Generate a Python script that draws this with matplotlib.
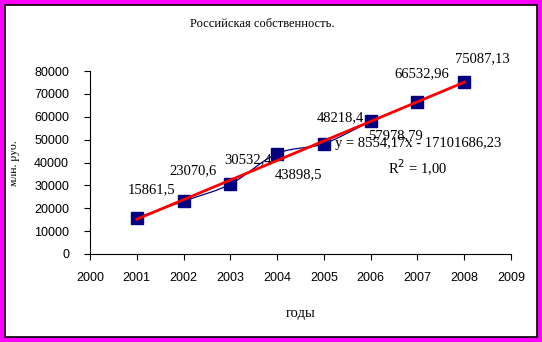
import numpy as np
import matplotlib
matplotlib.use("Agg")
import matplotlib.pyplot as plt
from matplotlib.patches import Rectangle
from matplotlib.transforms import Bbox

# data
years = [2001, 2002, 2003, 2004, 2005, 2006, 2007, 2008]
values = [15861.5, 23070.6, 30532.4, 43898.5, 48218.4, 57978.79, 66532.96, 75087.13]
labels = ["15861,5", "23070,6", "30532,4", "43898,5", "48218,4",
          "57978,79", "66532,96", "75087,13"]
# label offsets in pixels (dx, dy)
label_offsets = [(15, 28), (9, 31), (18, 24), (21, -21), (16, 26),
                 (25, -14), (4, 28), (18, 24)]
x_ticks = list(range(2000, 2010))
y_ticks = list(range(0, 80001, 10000))

W, H = 542, 342
plt.rcParams["font.family"] = ["Liberation Serif", "DejaVu Serif"]

fig = plt.figure(figsize=(W / 100, H / 100), dpi=100)
fig.patch.set_facecolor("#ff00ff")
fig.patches.append(Rectangle((5 / W, 5 / H), 532 / W, 332 / H, transform=fig.transFigure,
                             facecolor="white", edgecolor="black", linewidth=1.2, zorder=-5))

ax = fig.add_axes([90 / W, (H - 254) / H, 421 / W, 183 / H])
ax.set_zorder(1)
ax.set_facecolor("none")
for s in ("top", "right"):
    ax.spines[s].set_visible(False)
ax.set_xlim(2000, 2009)
ax.set_ylim(0, 80000)
ax.set_xticks(x_ticks)
ax.set_yticks(y_ticks)
ax.tick_params(direction="out", length=4, width=0.8, pad=9)
ax.tick_params(axis="y", pad=11)
for t in ax.get_xticklabels() + ax.get_yticklabels():
    t.set_fontfamily(["Liberation Sans", "DejaVu Sans"])
    t.set_fontsize(9)


def catmull(xs, ys, n=20):
    # smoothed connecting line (Excel style)
    px = [xs[0]] + list(xs) + [xs[-1]]
    py = [ys[0]] + list(ys) + [ys[-1]]
    out_x, out_y = [], []
    t = np.linspace(0, 1, n)
    for i in range(1, len(px) - 2):
        p0, p1, p2, p3 = [np.array([px[j], py[j]]) for j in (i - 1, i, i + 1, i + 2)]
        c1 = p1 + (p2 - p0) / 6
        c2 = p2 - (p3 - p1) / 6
        pts = ((1 - t) ** 3)[:, None] * p1 + (3 * (1 - t) ** 2 * t)[:, None] * c1 \
            + (3 * (1 - t) * t ** 2)[:, None] * c2 + (t ** 3)[:, None] * p2
        out_x.extend(pts[:, 0])
        out_y.extend(pts[:, 1])
    return out_x, out_y


sx, sy = catmull(years, values)
ax.plot(sx, sy, color="#000080", linewidth=0.9, zorder=2)
ax.plot(years, values, linestyle="none", marker="s", markersize=8,
        color="#000080", zorder=3)

k, b = np.polyfit(years, values, 1)
tx = np.array([years[0], years[-1]])
ax.plot(tx, k * tx + b, color="red", linewidth=2, zorder=4)

for x, v, lab, (dx, dy) in zip(years, values, labels, label_offsets):
    ax.annotate(lab, (x, v), xytext=(dx, dy), textcoords="offset pixels",
                ha="center", va="center", fontsize=10.5, zorder=5)

fig.text(418 / W, 1 - 143 / H, "y = 8554,17x - 17101686,23", ha="center", va="center",
         fontsize=10.5)
fig.text(418 / W, 1 - 168 / H, "R$^2$ = 1,00", ha="center", va="center", fontsize=10.5)

fig.text(262 / W, 1 - 24 / H, "Российская собственность.", ha="center", va="center",
         fontsize=9)
fig.text(301 / W, 1 - 313 / H, "годы", ha="center", va="center", fontsize=10.5)
yl = fig.text(13.5 / W, 1 - 163 / H, "млн. руб.", ha="center", va="center",
              rotation=90, fontsize=8.5)
yl.set_clip_on(True)
yl.set_clip_box(Bbox.from_extents(11, 0, W, H))

fig.savefig("out.png", dpi=100, facecolor=fig.get_facecolor())
